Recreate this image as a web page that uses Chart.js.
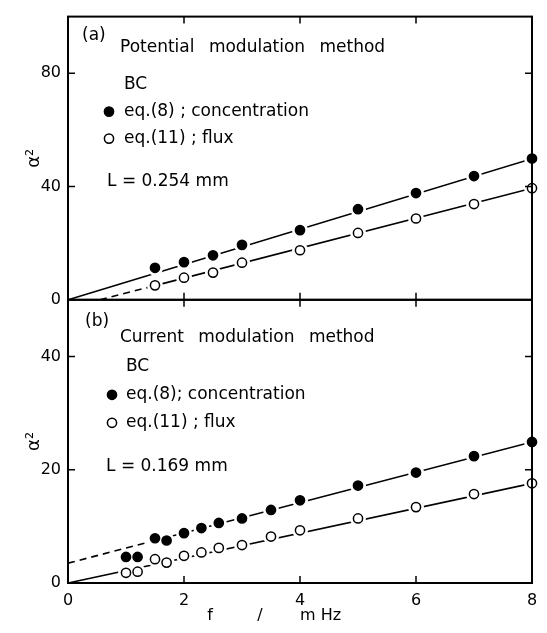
<!DOCTYPE html>
<html>
<head>
<meta charset="utf-8">
<script src="https://cdn.jsdelivr.net/npm/chart.js@4.4.1/dist/chart.umd.min.js"></script>
<style>
html, body { margin: 0; padding: 0; background: #fff; }
</style>
</head>
<body>
<canvas id="myChart" width="547" height="633"></canvas>
<script>
var ctx = document.getElementById('myChart').getContext('2d');

// (a) potential modulation, L = 0.254 mm
var freqA = [1.5, 2, 2.5, 3, 4, 5, 6, 7, 8];
var concA = [11.3, 13.3, 15.7, 19.4, 24.6, 32.0, 37.7, 43.7, 49.9];
var fluxA = [5.1, 7.8, 9.6, 13.1, 17.5, 23.6, 28.7, 33.8, 39.4];

// (b) current modulation, L = 0.169 mm
var freqB = [1.0, 1.2, 1.5, 1.7, 2.0, 2.3, 2.6, 3.0, 3.5, 4, 5, 6, 7, 8];
var concB = [4.6, 4.6, 7.9, 7.5, 8.8, 9.7, 10.6, 11.4, 12.9, 14.6, 17.2, 19.5, 22.4, 24.9];
var fluxB = [1.8, 2.0, 4.2, 3.6, 4.8, 5.4, 6.2, 6.7, 8.2, 9.3, 11.4, 13.4, 15.7, 17.6];

// straight lines through the points (first piece dashed where the figure dashes it)
var fitConcAx = [0, 8],        fitConcAy = [0, 49.8];
var fitFluxAx = [0.55, 1.5, 8], fitFluxAy = [0, 5.0, 39.4];
var fitConcBx = [0, 1.5, 8],   fitConcBy = [3.5, 7.5, 24.9];
var fitFluxBx = [0, 8],        fitFluxBy = [0, 17.6];

var xTicks = [0, 2, 4, 6, 8];
var yTicksA = [0, 40, 80];
var yTicksB = [0, 20, 40];

var titleA = 'Potential modulation method';
var titleB = 'Current modulation method';
var namesA = ['eq.(8) ; concentration', 'eq.(11) ; flux'];
var namesB = ['eq.(8); concentration', 'eq.(11) ; flux'];
var lenA = 'L = 0.254 mm', lenB = 'L = 0.169 mm';

var FONT = '"DejaVu Sans", sans-serif';

function pts(xs, ys) {
  return xs.map(function(x, i) { return {x: x, y: ys[i]}; });
}

function fitLine(xs, ys, axis, dashed) {
  return {
    data: pts(xs, ys), yAxisID: axis, showLine: true,
    borderColor: '#000', borderWidth: 1.6, pointRadius: 0, order: 3,
    segment: {
      borderDash: function(c) { return dashed && c.p0DataIndex === 0 ? [7, 5] : undefined; }
    }
  };
}
function halo(xs, ys, axis) {
  return {
    data: pts(xs, ys), yAxisID: axis, showLine: false, order: 2, clip: false,
    pointRadius: 8, pointBackgroundColor: '#fff', pointBorderWidth: 0
  };
}
function marks(xs, ys, axis, filled) {
  return {
    data: pts(xs, ys), yAxisID: axis, showLine: false, order: 1, clip: false,
    pointRadius: 4.6, pointBorderWidth: 1.5, pointBorderColor: '#000',
    pointBackgroundColor: filled ? '#000' : '#fff'
  };
}

function dot(c, x, y, filled) {
  c.beginPath();
  c.arc(x, y, 4.6, 0, Math.PI * 2);
  c.fillStyle = filled ? '#000' : '#fff';
  c.fill();
  c.lineWidth = 1.5;
  c.strokeStyle = '#000';
  c.stroke();
  c.fillStyle = '#000';
}

var frame = {
  id: 'frame',
  afterDraw: function(chart) {
    var c = chart.ctx, xs = chart.scales.x;
    var L = xs.left, R = xs.right, tl = 7;
    c.save();
    c.strokeStyle = '#000';
    [['yA', yTicksA], ['yB', yTicksB]].forEach(function(p) {
      var s = chart.scales[p[0]];
      c.lineWidth = 2;
      c.strokeRect(L, s.top, R - L, s.bottom - s.top);
      c.lineWidth = 1.5;
      c.beginPath();
      p[1].forEach(function(v) {
        if (v === 0) return;
        var y = s.getPixelForValue(v);
        c.moveTo(L, y); c.lineTo(L + tl, y);
        c.moveTo(R, y); c.lineTo(R - tl, y);
      });
      xTicks.forEach(function(v) {
        if (v === 0 || v === 8) return;
        var x = xs.getPixelForValue(v);
        c.moveTo(x, s.top); c.lineTo(x, s.top + tl);
        c.moveTo(x, s.bottom); c.lineTo(x, s.bottom - tl);
      });
      c.stroke();
    });

    // panel notes
    var x0 = chart.chartArea.left;
    var tA = chart.scales.yA.top, tB = chart.scales.yB.top;
    c.fillStyle = '#000';
    c.textBaseline = 'middle';
    c.textAlign = 'left';
    c.font = '17px ' + FONT;
    c.wordSpacing = '9px';
    c.fillText(titleA, x0 + 52, tA + 31);
    c.fillText(titleB, x0 + 52, tB + 38);
    c.wordSpacing = '0px';

    c.fillText('(a)', x0 + 14, tA + 19);
    c.fillText('BC', x0 + 56, tA + 68);
    dot(c, x0 + 41, tA + 95, true);
    c.fillText(namesA[0], x0 + 56, tA + 95);
    dot(c, x0 + 41, tA + 122, false);
    c.fillText(namesA[1], x0 + 56, tA + 122);
    c.fillText(lenA, x0 + 39, tA + 165);

    c.fillText('(b)', x0 + 17, tB + 22);
    c.fillText('BC', x0 + 58, tB + 67);
    dot(c, x0 + 44, tB + 95, true);
    c.fillText(namesB[0], x0 + 58, tB + 95);
    dot(c, x0 + 44, tB + 123, false);
    c.fillText(namesB[1], x0 + 58, tB + 123);
    c.fillText(lenB, x0 + 38, tB + 167);

    // x axis title
    c.font = '16px ' + FONT;
    c.textAlign = 'center';
    c.fillText('f', x0 + 142, 616);
    c.fillText('/', x0 + 192, 616);
    c.textAlign = 'left';
    c.fillText('m Hz', x0 + 232, 616);
    c.restore();
  }
};

function yAxis(max, ticks) {
  return {
    type: 'linear', position: 'left', stack: 'panels', stackWeight: 1,
    min: 0, max: max,
    grid: { display: false, drawTicks: false, tickLength: 0 },
    border: { display: false },
    afterBuildTicks: function(s) { s.ticks = ticks.map(function(v) { return {value: v}; }); },
    afterFit: function(s) { s.width = 68; },
    ticks: { color: '#000', padding: 7, font: { family: FONT, size: 16 } },
    title: {
      display: true, text: 'α²', color: '#000',
      font: { family: FONT, size: 18 }, padding: { top: 24, bottom: 0 }
    }
  };
}

new Chart(ctx, {
  type: 'scatter',
  data: {
    datasets: [
      fitLine(fitConcAx, fitConcAy, 'yA', false),
      fitLine(fitFluxAx, fitFluxAy, 'yA', true),
      fitLine(fitConcBx, fitConcBy, 'yB', true),
      fitLine(fitFluxBx, fitFluxBy, 'yB', false),
      halo(freqA, concA, 'yA'), halo(freqA, fluxA, 'yA'),
      halo(freqB, concB, 'yB'), halo(freqB, fluxB, 'yB'),
      marks(freqA, concA, 'yA', true), marks(freqA, fluxA, 'yA', false),
      marks(freqB, concB, 'yB', true), marks(freqB, fluxB, 'yB', false)
    ]
  },
  options: {
    responsive: false,
    animation: false,
    layout: { padding: { top: 8, right: 15, left: 0, bottom: 0 } },
    plugins: { legend: { display: false }, tooltip: { enabled: false } },
    scales: {
      x: {
        type: 'linear', position: 'bottom', min: 0, max: 8,
        grid: { display: false, drawTicks: false, tickLength: 0 },
        border: { display: false },
        afterBuildTicks: function(s) { s.ticks = xTicks.map(function(v) { return {value: v}; }); },
        afterFit: function(s) { s.height = 50; },
        ticks: { color: '#000', padding: 8, font: { family: FONT, size: 16 } }
      },
      yB: yAxis(50, yTicksB),
      yA: yAxis(100, yTicksA)
    }
  },
  plugins: [frame]
});
</script>
</body>
</html>
